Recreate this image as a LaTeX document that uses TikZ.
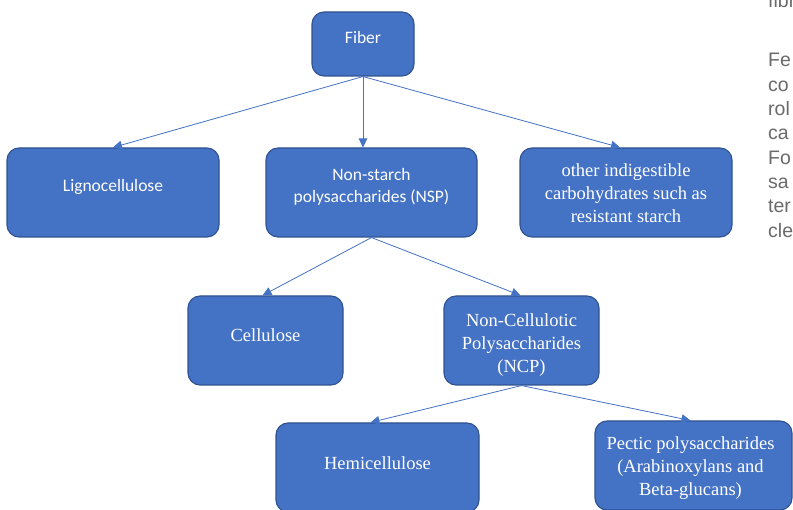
\documentclass[tikz,border=0pt]{standalone}
\usepackage{fontspec}
\setmainfont{Liberation Serif}
\newfontfamily\calfont{Carlito}
\newfontfamily\sidefont{Liberation Sans}
\usetikzlibrary{arrows.meta}
\definecolor{boxfill}{HTML}{4472C4}
\definecolor{boxline}{HTML}{2F528F}
\definecolor{linkcol}{HTML}{4472C4}
\definecolor{sidegray}{HTML}{6A6A6A}
\tikzset{
  box/.style={draw=boxline, fill=boxfill, line width=1.1pt, rounded corners=12pt,
    inner sep=0pt},
  lbl/.style={text=white, align=center, inner sep=0pt},
  clbl/.style={lbl, font=\calfont\fontsize{17.5}{22}\selectfont},
  tlbl/.style={lbl, font=\fontsize{18.5}{23}\selectfont},
  link/.style={draw=linkcol, line width=0.8pt, -{Triangle[length=9pt,width=8.5pt]}},
  sidetxt/.style={anchor=base west, inner sep=0pt, text=sidegray,
    font=\sidefont\fontsize{19.5}{24}\selectfont}
}
\begin{document}
\begin{tikzpicture}[x=1pt,y=-1pt]
\useasboundingbox (0,0) rectangle (793,510);
\clip (0,0) rectangle (793,510);
\fill[white] (0,0) rectangle (793,510);

\node[box, minimum width=102pt, minimum height=64pt,
  label={[clbl, yshift=6.5pt]center:Fiber}] (fiber) at (363,44) {};
\node[box, minimum width=212pt, minimum height=89pt,
  label={[clbl, yshift=6pt]center:Lignocellulose}] (ligno) at (113,192.5) {};
\node[box, minimum width=211pt, minimum height=89pt,
  label={[clbl, yshift=5.5pt]center:{Non-starch\\polysaccharides (NSP)}}] (nsp) at (371.5,192.5) {};
\node[box, minimum width=212pt, minimum height=89pt,
  label={[tlbl, yshift=-1pt]center:{other indigestible\\carbohydrates such as\\resistant starch}}] (other) at (626,192.5) {};
\node[box, minimum width=155pt, minimum height=89pt,
  label={[tlbl, yshift=5.5pt]center:Cellulose}] (cell) at (265.5,340.5) {};
\node[box, minimum width=155pt, minimum height=89pt,
  label={[tlbl, yshift=-5pt]center:{Non-Cellulotic\\Polysaccharides\\(NCP)}}] (ncp) at (521.5,340.5) {};
\node[box, minimum width=203pt, minimum height=89pt,
  label={[tlbl, yshift=4pt]center:Hemicellulose}] (hemi) at (377.5,467.5) {};
\node[box, minimum width=197pt, minimum height=89pt,
  label={[tlbl, yshift=-2.5pt, xshift=-3pt]center:{Pectic polysaccharides\\(Arabinoxylans and\\Beta-glucans)}}] (pectic) at (693.5,465.5) {};

\draw[link] (fiber.south) -- (ligno.north);
\draw[link] (fiber.south) -- (fiber.south |- nsp.north);
\draw[link] (fiber.south) -- ([xshift=-6pt]other.north);
\draw[link] (nsp.south) -- ([xshift=-3pt]cell.north);
\draw[link] (nsp.south) -- ([xshift=-1pt]ncp.north);
\draw[link] (ncp.south) -- ([xshift=-7pt]hemi.north);
\draw[link] (ncp.south) -- ([xshift=-3pt]pectic.north);

\node[sidetxt] (s0) at (768,8) {fibr};
\node[sidetxt] (s1) at (768,67) {Fe};
\node[sidetxt] (s2) at (768,91.3) {co};
\node[sidetxt] (s3) at (768,115.6) {rol};
\node[sidetxt] (s4) at (768,140) {ca};
\node[sidetxt] (s5) at (768,164.3) {Fo};
\node[sidetxt] (s6) at (768,188.6) {sa};
\node[sidetxt] (s7) at (768,213) {ter};
\node[sidetxt] (s8) at (768,237.3) {cle};
\end{tikzpicture}
\end{document}
